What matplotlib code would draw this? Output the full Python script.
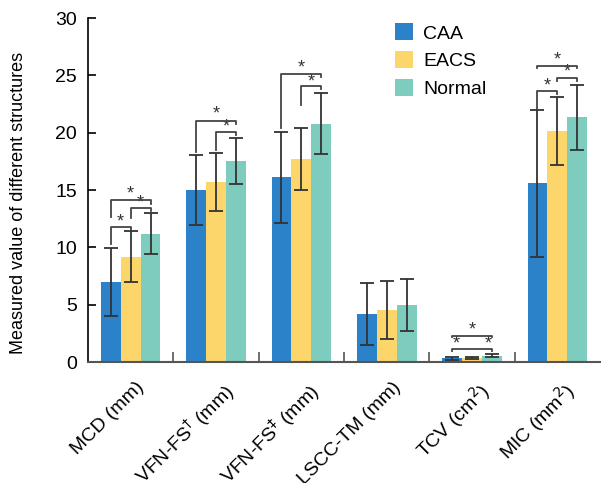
import numpy as np
import matplotlib.pyplot as plt

plt.rcParams['font.family'] = ['Liberation Sans', 'DejaVu Sans']

categories = ["MCD (mm)", "VFN-FS$^{\\dagger}$ (mm)", "VFN-FS$^{\\ddagger}$ (mm)",
              "LSCC-TM (mm)", "TCV (cm$^{2}$)", "MIC (mm$^{2}$)"]
groups = ["CAA", "EACS", "Normal"]
colors = ["#2b82c8", "#fdd66b", "#7dccbe"]

caa = [7.0, 15.0, 16.1, 4.2, 0.33, 15.6]
caa_sd = [2.95, 3.05, 4.0, 2.7, 0.13, 6.4]
eacs = [9.2, 15.7, 17.7, 4.55, 0.35, 20.15]
eacs_sd = [2.2, 2.55, 2.7, 2.5, 0.12, 3.0]
normal = [11.2, 17.5, 20.8, 4.95, 0.55, 21.35]
normal_sd = [1.8, 2.0, 2.7, 2.25, 0.13, 2.85]

# significance brackets: (category, bar a, bar b, left end, top, right end, star y)
brackets = [
    (0, 0, 1, 10.3, 11.75, 11.55, 12.25),
    (0, 1, 2, 12.6, 13.4, 13.15, 13.85),
    (0, 0, 2, 12.65, 14.1, 13.8, 14.65),
    (1, 1, 2, 18.5, 20.05, 19.8, 20.5),
    (1, 0, 2, 18.3, 21.05, 20.8, 21.6),
    (2, 1, 2, 22.4, 24.05, 23.85, 24.45),
    (2, 0, 2, 20.4, 25.1, 24.85, 25.6),
    (4, 0, 2, 2.15, 2.3, 2.15, 2.8),
    (4, 0, 2, 0.98, 1.15, 0.98, None),
    (5, 0, 1, 22.05, 23.65, 23.4, 24.1),
    (5, 1, 2, 24.5, 24.8, 24.5, 25.25),
    (5, 0, 2, 25.6, 25.85, 25.6, 26.3),
]
# extra single stars for TCV
extra_stars = [(4, -0.19, 1.6), (4, 0.19, 1.6)]

means = [caa, eacs, normal]
sds = [caa_sd, eacs_sd, normal_sd]

fig = plt.figure(figsize=(6.01, 4.83), dpi=100)
ax = fig.add_axes([0.1464, 0.2505, 0.852, 0.7122])

x = np.arange(len(categories))
w = 0.233
for k in range(3):
    ax.bar(x + (k - 1) * w, means[k], w, color=colors[k], label=groups[k], zorder=2)
    ax.errorbar(x + (k - 1) * w, means[k], yerr=sds[k], fmt="none", ecolor="#333333",
                elinewidth=1.3, capsize=5, capthick=1.3, zorder=3)

for c, a, b, yl, h, yr, ys in brackets:
    xa = c + (a - 1) * w
    xb = c + (b - 1) * w
    ax.plot([xa, xa, xb, xb], [yl, h, h, yr], color="#444444", lw=1.3, zorder=4)
    if ys is not None:
        ax.text((xa + xb) / 2, ys, "*", ha="center", va="center", fontsize=13, color="#333333")
for c, dx, ys in extra_stars:
    ax.text(c + dx, ys, "*", ha="center", va="center", fontsize=13, color="#333333")

ax.set_xlim(-0.5, 5.5)
ax.set_ylim(0, 30)
ax.set_yticks(range(0, 31, 5))
# label ticks sit a little right of the group centres (invisible, length 0)
ax.set_xticks(x + 0.06)
ax.set_xticklabels(categories, rotation=45, ha="right", rotation_mode="anchor", fontsize=14)
ax.set_xticks(np.arange(0.5, 5.5, 1), minor=True)
ax.tick_params(axis="x", which="major", length=0, pad=12)
ax.tick_params(axis="x", which="minor", direction="in", length=7, width=1.2, color="#555555")
ax.tick_params(axis="y", direction="in", length=6, width=1.2, labelsize=14, pad=8)
ax.set_ylabel("Measured value of different structures", fontsize=13)
ax.yaxis.set_label_coords(-0.119, 0.462)

for s in ["top", "right"]:
    ax.spines[s].set_visible(False)
ax.spines["left"].set_linewidth(1.2)
ax.spines["bottom"].set_linewidth(1.5)
ax.spines["bottom"].set_color("#555555")

ax.legend(loc="upper left", bbox_to_anchor=(0.565, 1.035), frameon=False, fontsize=14,
          handlelength=0.95, handleheight=0.95, handletextpad=0.5, labelspacing=0.45)

fig.savefig("out.png", dpi=100)
